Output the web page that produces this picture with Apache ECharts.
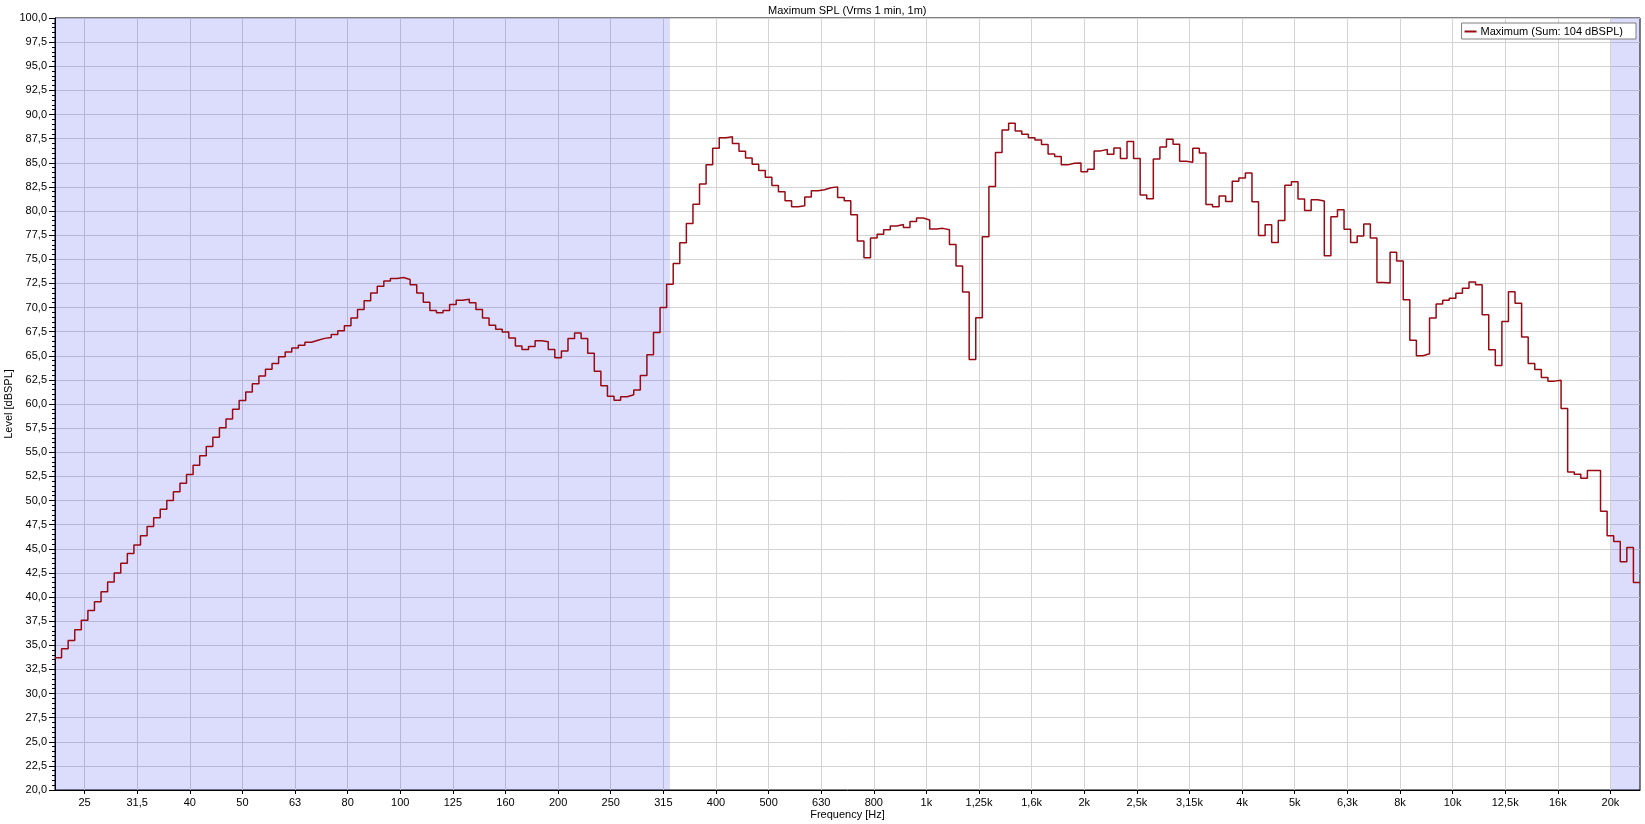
<!DOCTYPE html>
<html><head><meta charset="utf-8">
<script src="https://cdn.jsdelivr.net/npm/echarts@6/dist/echarts.min.js"></script>
<style>html,body{margin:0;padding:0;background:#fff}#c{width:1645px;height:824px}</style>
</head><body><div id="c"></div>
<script>
const chartTitle = 'Maximum SPL (Vrms 1 min, 1m)';
const seriesName = 'Maximum (Sum: 104 dBSPL)';
const xAxisName = 'Frequency [Hz]';
const yAxisName = 'Level [dBSPL]';

// 1/24-octave bands, first band centre 10^1.35 Hz (22.4 Hz), 80 bands per decade
const FIRST_BAND_LOG10_HZ = 1.35;
const BANDS_PER_DECADE = 80;

const levels = [
  33.7, 34.65, 35.5, 36.6, 37.6, 38.6, 39.5, 40.55, 41.55, 42.5,
  43.5, 44.5, 45.4, 46.35, 47.3, 48.2, 49.1, 50.0, 50.9, 51.8,
  52.7, 53.65, 54.65, 55.6, 56.55, 57.55, 58.45, 59.45, 60.35, 61.25,
  62.1, 62.9, 63.6, 64.2, 64.9, 65.4, 65.8, 66.1, 66.4, 66.6,
  66.8, 66.9, 67.2, 67.6, 68.1, 68.9, 69.8, 70.7, 71.5, 72.2,
  72.75, 73.0, 73.1, 72.9, 72.35, 71.5, 70.55, 69.7, 69.45, 69.7,
  70.3, 70.75, 70.85, 70.5, 69.8, 68.9, 68.15, 67.75, 67.45, 66.85,
  66.0, 65.65, 65.95, 66.55, 66.45, 65.65, 64.8, 65.5, 66.8, 67.35,
  66.8, 65.25, 63.4, 61.9, 60.8, 60.4, 60.75, 60.95, 61.45, 62.95,
  65.1, 67.4, 70.0, 72.4, 74.55, 76.7, 78.7, 80.7, 82.8, 84.8,
  86.5, 87.6, 87.7, 87.0, 86.2, 85.5, 84.85, 84.2, 83.5, 82.65,
  82.0, 81.05, 80.45, 80.55, 81.45, 82.1, 82.2, 82.4, 82.5, 81.4,
  81.05, 79.6, 76.9, 75.15, 77.2, 77.6, 78.05, 78.45, 78.6, 78.3,
  78.9, 79.27, 79.07, 78.13, 78.2, 78.06, 76.54, 74.3, 71.6, 64.6,
  68.93, 77.33, 82.53, 86.06, 88.4, 89.1, 88.3, 87.96, 87.6, 87.37,
  86.9, 85.9, 85.64, 84.78, 84.95, 84.98, 84.08, 84.33, 86.23, 86.37,
  85.88, 86.54, 85.43, 87.2, 85.43, 81.65, 81.27, 85.39, 86.63, 87.43,
  86.91, 85.15, 85.04, 86.5, 86.01, 80.68, 80.44, 81.55, 80.99, 83.07,
  83.42, 83.94, 80.96, 77.47, 78.57, 76.74, 79.02, 82.66, 83.04, 81.24,
  80.06, 81.17, 81.03, 75.35, 79.4, 80.13, 78.12, 76.74, 77.4, 78.64,
  77.19, 72.6, 72.55, 75.72, 74.82, 70.8, 66.6, 65.0, 65.2, 68.9,
  70.36, 70.74, 70.95, 71.47, 71.99, 72.65, 72.37, 69.26, 65.62, 64.0,
  68.56, 71.64, 70.43, 66.94, 64.2, 63.58, 62.75, 62.37, 62.47, 59.53,
  52.96, 52.72, 52.3, 53.1, 53.1, 48.88, 46.35, 45.76, 43.65, 45.14,
  41.5
];

const tickLog10 = [1.4, 1.5, 1.6, 1.7, 1.8, 1.9, 2.0, 2.1, 2.2, 2.3,
  2.4, 2.5, 2.6, 2.7, 2.8, 2.9, 3.0, 3.1, 3.2, 3.3,
  3.4, 3.5, 3.6, 3.7, 3.8, 3.9, 4.0, 4.1, 4.2, 4.3];
const tickLabels = ['25', '31,5', '40', '50', '63', '80', '100', '125', '160', '200',
  '250', '315', '400', '500', '630', '800', '1k', '1,25k', '1,6k', '2k',
  '2,5k', '3,15k', '4k', '5k', '6,3k', '8k', '10k', '12,5k', '16k', '20k'];

// shaded (out-of-range) frequency zones, Hz
const shadeLowUpperHz = 325.5;
const shadeHighLowerHz = 20000;

const yMin = 20, yMax = 100, yStep = 2.5;

const halfBand = 0.5 / BANDS_PER_DECADE;
const xMin = FIRST_BAND_LOG10_HZ - halfBand;
const xMax = FIRST_BAND_LOG10_HZ + (levels.length - 1) / BANDS_PER_DECADE + halfBand;

// step line: each band drawn from its lower edge to its upper edge
const stepData = levels.map((v, i) => [FIRST_BAND_LOG10_HZ + i / BANDS_PER_DECADE - halfBand, v]);
stepData.push([xMax, levels[levels.length - 1]]);

const FONT = 'Liberation Sans';
const chart = echarts.init(document.getElementById('c'), null, { renderer: 'canvas' });
chart.setOption({
  animation: false,
  backgroundColor: '#ffffff',
  textStyle: { fontFamily: FONT },
  title: {
    text: chartTitle,
    left: 768, top: 5, padding: 0,
    textStyle: { fontFamily: FONT, fontSize: 11, fontWeight: 'normal', color: '#000' }
  },
  legend: {
    right: 9, top: 23,
    orient: 'horizontal',
    backgroundColor: '#fff',
    borderColor: '#7f7f7f', borderWidth: 1, borderRadius: 0,
    padding: [3, 13, 2, 3],
    itemWidth: 12, itemHeight: 2, itemGap: 4,
    icon: 'rect',
    textStyle: { fontFamily: FONT, fontSize: 11, color: '#000', padding: [0, 0, 0, -1] },
    data: [seriesName]
  },
  grid: {
    left: 55, right: 5, top: 18, bottom: 34,
    show: true, borderColor: '#000', borderWidth: 1, backgroundColor: 'transparent',
    containLabel: false,
    outerBoundsMode: 'none'
  },
  xAxis: {
    type: 'value', min: xMin, max: xMax,
    name: xAxisName, nameLocation: 'middle', nameGap: 19, nameMoveOverlap: false,
    nameTextStyle: { fontFamily: FONT, fontSize: 11, color: '#000' },
    axisLine: { show: true, lineStyle: { color: '#000', width: 1 } },
    axisTick: { show: true, customValues: tickLog10, length: 4, lineStyle: { color: '#000' } },
    axisLabel: {
      customValues: tickLog10, margin: 7, fontSize: 11, color: '#000', fontFamily: FONT,
      formatter: (v) => {
        const k = tickLog10.findIndex(t => Math.abs(t - v) < 1e-6);
        return k >= 0 ? tickLabels[k] : '';
      }
    },
    splitLine: { show: true, lineStyle: { color: '#d3d3d3', width: 1 } }
  },
  yAxis: {
    type: 'value', min: yMin, max: yMax, interval: yStep,
    name: yAxisName, nameLocation: 'middle', nameGap: 41, nameMoveOverlap: false,
    nameTextStyle: { fontFamily: FONT, fontSize: 11, color: '#000' },
    axisLine: { show: true, lineStyle: { color: '#000', width: 1 } },
    axisTick: { show: true, length: 6, lineStyle: { color: '#000' } },
    minorTick: { show: true, splitNumber: 5, length: 3, lineStyle: { color: '#000' } },
    axisLabel: {
      margin: 8, fontSize: 11, color: '#000', fontFamily: FONT,
      formatter: (v) => v.toFixed(1).replace('.', ',')
    },
    splitLine: { show: true, lineStyle: { color: '#d3d3d3', width: 1 } }
  },
  series: [
    {
      name: 'shade', type: 'line', data: [], silent: true,
      markArea: {
        silent: true,
        itemStyle: { color: 'rgba(0,0,240,0.137)' },
        data: [
          [{ xAxis: xMin }, { xAxis: Math.log10(shadeLowUpperHz) }],
          [{ xAxis: Math.log10(shadeHighLowerHz) }, { xAxis: xMax }]
        ]
      }
    },
    {
      name: seriesName, type: 'line', step: 'end',
      data: stepData, showSymbol: false, symbol: 'none',
      lineStyle: { color: '#990a14', width: 1.5 },
      itemStyle: { color: '#990a14' }
    }
  ]
});
</script>
</body></html>
